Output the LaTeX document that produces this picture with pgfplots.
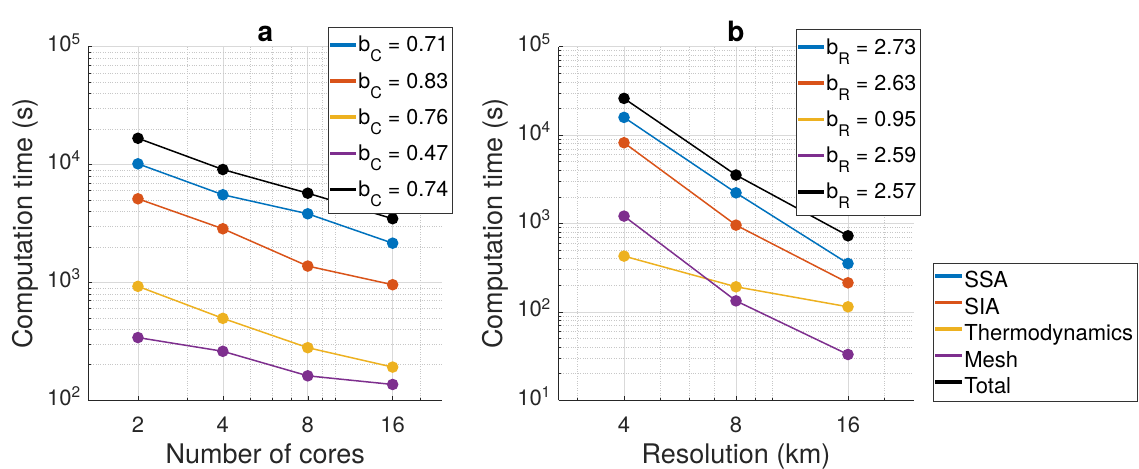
\documentclass[border=0pt]{standalone}
\usepackage{fontspec}
\setmainfont{TeX Gyre Heros}
\usepackage{pgfplots}
\pgfplotsset{compat=1.18}
\usepackage{pgfplotstable}

\definecolor{mblue}{rgb}{0,0.447,0.741}
\definecolor{mred}{rgb}{0.85,0.325,0.098}
\definecolor{myellow}{rgb}{0.929,0.694,0.125}
\definecolor{mpurple}{rgb}{0.494,0.184,0.556}

\pgfplotstableread{
x SSA SIA Thermo Mesh Total
2 10140 5120 925 340 16700
4 5540 2850 495 260 9070
8 3820 1375 279 161 5710
16 2150 955 191 136 3470
}\dataA

\pgfplotstableread{
x SSA SIA Thermo Mesh Total
4 15860 8190 427 1211 26000
8 2220 957 192 133 3530
16 352 213 114 32.9 725
}\dataB

\newcommand{\bsub}[1]{b\raisebox{-10pt}{\fontsize{16}{16}\selectfont #1}}

\begin{document}
\begin{tikzpicture}
\path[use as bounding box] (0,0) rectangle (1139pt,468pt);

% Panel a
\begin{axis}[
  scale only axis,
  xmode=log, ymode=log,
  axis x line*=bottom, axis y line*=left,
  axis line style={-, black!85, line width=0.6pt},
  tick align=inside, major tick length=4pt, minor tick length=2.5pt,
  tick style={black!85, line width=0.5pt},
  xmajorgrids, ymajorgrids, xminorgrids, yminorgrids,
  major grid style={black!15, line width=0.6pt},
  minor grid style={black!22, dotted, line width=0.5pt},
  tick label style={font=\fontsize{22}{22}\selectfont, text=black!85, inner sep=0pt},
  xticklabel style={anchor=base, yshift=-32pt},
  yticklabel style={anchor=base east, xshift=-7.5pt, yshift=-5pt},
  every axis x label/.style={at={(axis description cs:0.5,-0.178)}, anchor=base, inner sep=0pt,
    font=\fontsize{27}{27}\selectfont, text=black!85},
  every axis y label/.style={at={(axis description cs:-0.179,0.5)}, rotate=90, anchor=center, inner sep=0pt,
    font=\fontsize{27}{27}\selectfont, text=black!85},
  every axis title shift=0pt,
  every axis title/.style={at={(axis description cs:0.5,1)}, anchor=base, yshift=5.5pt, inner sep=0pt,
    font=\bfseries\fontsize{28}{28}\selectfont},
  legend image code/.code={\fill[#1, draw=none] (0pt,0.3em-1.8pt) rectangle (26pt,0.3em+1.8pt);},
  legend cell align=left,
  legend style={draw=black!80, line width=0.8pt, fill=white,
    font=\fontsize{21.5}{21.5}\selectfont, inner xsep=2pt, inner ysep=2.4pt,
    nodes={inner xsep=2pt, inner ysep=2pt, text height=20.3pt, text depth=11.9pt},
    at={(axis description cs:0.677,1.056)}, anchor=north west},
  at={(88.3pt,67.8pt)}, anchor=south west,
  width=354pt, height=353.5pt,
  xmin=1.3333, xmax=24,
  ymin=100, ymax=100000,
  xtick={2,4,8,16}, xticklabels={2,4,8,16},
  minor xtick={3,5,6,7,9,10,20},
  ytick={100,1000,10000,100000},
  yticklabels={10\textsuperscript{2},10\textsuperscript{3},10\textsuperscript{4},10\textsuperscript{5}},
  minor ytick={200,300,400,500,600,700,800,900,2000,3000,4000,5000,6000,7000,8000,9000,20000,30000,40000,50000,60000,70000,80000,90000},
  xlabel={Number of cores},
  ylabel={Computation time (s)},
  title={a},
]
\addplot[mblue, line width=1.5pt, mark=*, mark size=5pt, mark options={fill=mblue, draw=mblue}] table[x=x, y=SSA] {\dataA};
\addlegendentry{\bsub{C} = 0.71}
\addplot[mred, line width=1.5pt, mark=*, mark size=5pt, mark options={fill=mred, draw=mred}] table[x=x, y=SIA] {\dataA};
\addlegendentry{\bsub{C} = 0.83}
\addplot[myellow, line width=1.5pt, mark=*, mark size=5pt, mark options={fill=myellow, draw=myellow}] table[x=x, y=Thermo] {\dataA};
\addlegendentry{\bsub{C} = 0.76}
\addplot[mpurple, line width=1.5pt, mark=*, mark size=5pt, mark options={fill=mpurple, draw=mpurple}] table[x=x, y=Mesh] {\dataA};
\addlegendentry{\bsub{C} = 0.47}
\addplot[black, line width=1.5pt, mark=*, mark size=5pt, mark options={fill=black, draw=black}] table[x=x, y=Total] {\dataA};
\addlegendentry{\bsub{C} = 0.74}
\end{axis}

% Panel b
\begin{axis}[
  scale only axis,
  xmode=log, ymode=log,
  axis x line*=bottom, axis y line*=left,
  axis line style={-, black!85, line width=0.6pt},
  tick align=inside, major tick length=4pt, minor tick length=2.5pt,
  tick style={black!85, line width=0.5pt},
  xmajorgrids, ymajorgrids, xminorgrids, yminorgrids,
  major grid style={black!15, line width=0.6pt},
  minor grid style={black!22, dotted, line width=0.5pt},
  tick label style={font=\fontsize{22}{22}\selectfont, text=black!85, inner sep=0pt},
  xticklabel style={anchor=base, yshift=-32pt},
  yticklabel style={anchor=base east, xshift=-7.5pt, yshift=-5pt},
  every axis x label/.style={at={(axis description cs:0.5,-0.178)}, anchor=base, inner sep=0pt,
    font=\fontsize{27}{27}\selectfont, text=black!85},
  every axis y label/.style={at={(axis description cs:-0.179,0.5)}, rotate=90, anchor=center, inner sep=0pt,
    font=\fontsize{27}{27}\selectfont, text=black!85},
  every axis title shift=0pt,
  every axis title/.style={at={(axis description cs:0.5,1)}, anchor=base, yshift=5.5pt, inner sep=0pt,
    font=\bfseries\fontsize{28}{28}\selectfont},
  legend image code/.code={\fill[#1, draw=none] (0pt,0.3em-1.8pt) rectangle (26pt,0.3em+1.8pt);},
  legend cell align=left,
  legend style={draw=black!80, line width=0.8pt, fill=white,
    font=\fontsize{21.5}{21.5}\selectfont, inner xsep=2pt, inner ysep=2.4pt,
    nodes={inner xsep=2pt, inner ysep=2pt, text height=20.3pt, text depth=11.9pt},
    at={(axis description cs:0.669,1.050)}, anchor=north west},
  at={(558.5pt,67.8pt)}, anchor=south west,
  width=355pt, height=353.5pt,
  xmin=2.6667, xmax=24,
  ymin=10, ymax=100000,
  xtick={4,8,16}, xticklabels={4,8,16},
  minor xtick={3,5,6,7,9,10,20},
  ytick={10,100,1000,10000,100000},
  yticklabels={10\textsuperscript{1},10\textsuperscript{2},10\textsuperscript{3},10\textsuperscript{4},10\textsuperscript{5}},
  minor ytick={20,30,40,50,60,70,80,90,200,300,400,500,600,700,800,900,2000,3000,4000,5000,6000,7000,8000,9000,20000,30000,40000,50000,60000,70000,80000,90000},
  xlabel={Resolution (km)},
  ylabel={Computation time (s)},
  title={b},
]
\addplot[mblue, line width=1.5pt, mark=*, mark size=5pt, mark options={fill=mblue, draw=mblue}] table[x=x, y=SSA] {\dataB};
\addlegendentry{\bsub{R} = 2.73}
\addplot[mred, line width=1.5pt, mark=*, mark size=5pt, mark options={fill=mred, draw=mred}] table[x=x, y=SIA] {\dataB};
\addlegendentry{\bsub{R} = 2.63}
\addplot[myellow, line width=1.5pt, mark=*, mark size=5pt, mark options={fill=myellow, draw=myellow}] table[x=x, y=Thermo] {\dataB};
\addlegendentry{\bsub{R} = 0.95}
\addplot[mpurple, line width=1.5pt, mark=*, mark size=5pt, mark options={fill=mpurple, draw=mpurple}] table[x=x, y=Mesh] {\dataB};
\addlegendentry{\bsub{R} = 2.59}
\addplot[black, line width=1.5pt, mark=*, mark size=5pt, mark options={fill=black, draw=black}] table[x=x, y=Total] {\dataB};
\addlegendentry{\bsub{R} = 2.57}
\end{axis}

% Separate legend
\begin{axis}[hide axis, scale only axis, width=20pt, height=20pt,
  at={(933pt,205pt)}, anchor=north west,
  xmin=0, xmax=1, ymin=0, ymax=1,
  legend image code/.code={\fill[#1, draw=none] (0pt,0.33em-1.8pt) rectangle (27pt,0.33em+1.8pt);},
  legend cell align=left,
  legend style={at={(axis description cs:0,1)}, anchor=north west,
    draw=black!80, line width=0.8pt, fill=white,
    font=\fontsize{22}{22}\selectfont, inner xsep=2pt, inner ysep=2.8pt,
    nodes={inner xsep=2pt, inner ysep=2.7pt, text height=19pt, text depth=2pt}},
]
\addlegendimage{mblue}\addlegendentry{SSA}
\addlegendimage{mred}\addlegendentry{SIA}
\addlegendimage{myellow}\addlegendentry{Thermodynamics}
\addlegendimage{mpurple}\addlegendentry{Mesh}
\addlegendimage{black}\addlegendentry{Total}
\end{axis}
\end{tikzpicture}
\end{document}
